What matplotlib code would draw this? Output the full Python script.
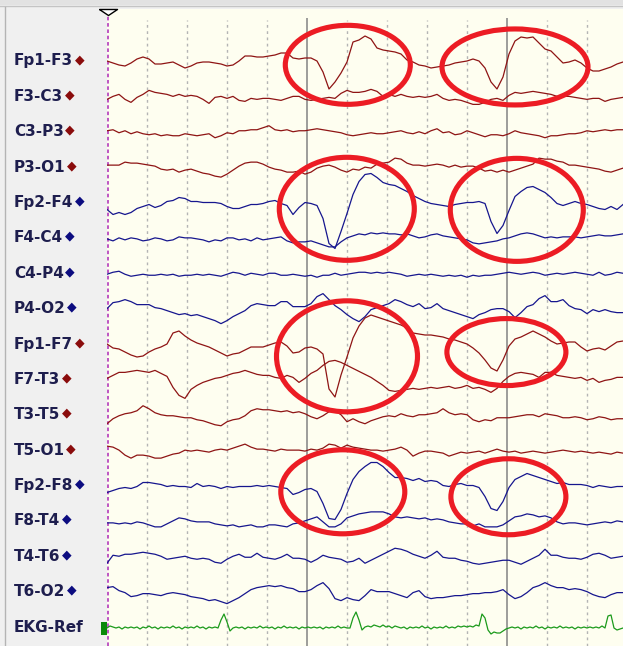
import matplotlib
matplotlib.use("Agg")
import matplotlib.pyplot as plt
import matplotlib.transforms as mtransforms
from matplotlib.patches import Ellipse, Rectangle
import numpy as np

# bipolar montage, top to bottom
channels = ["Fp1-F3", "F3-C3", "C3-P3", "P3-O1",
            "Fp2-F4", "F4-C4", "C4-P4", "P4-O2",
            "Fp1-F7", "F7-T3", "T3-T5", "T5-O1",
            "Fp2-F8", "F8-T4", "T4-T6", "T6-O2",
            "EKG-Ref"]
side = ["L"] * 4 + ["R"] * 4 + ["L"] * 4 + ["R"] * 4 + ["E"]

# EEG samples, one every 30 ms from the cursor (deflection, up = positive)
fp1_f3 = [1, -1, -3, -4, -1, 3, 5, 3, -2, -2,
          -1, 0, -3, -6, -4, -1, 0, 0, -1, -2,
          -4, -3, 1, 6, 6, 5, 5, 6, 7, 9,
          9, 4, 3, 4, 4, 1, -10, -27, -20, -11,
          0, 20, 22, 26, 23, 14, 12, 11, 10, 8,
          2, 0, -3, -4, -6, -5, -4, -3, -1, 0,
          1, 3, 1, -6, -20, -27, -15, 8, 21, 25,
          24, 25, 19, 13, 11, 5, -1, 0, 2, -1,
          -6, -9, -9, -7, -5, -2, 0]
f3_c3 = [-2, 1, 3, -2, -5, 0, 3, 7, 5, 4,
         3, 1, 3, 1, 2, 1, -2, -6, 0, 1,
         -1, 1, -3, -4, -1, -2, -1, -1, -2, -3,
         -1, 1, 1, -2, -3, -2, -1, 0, -1, 4,
         7, 5, 5, 6, 8, 6, 1, 3, 1, 3,
         1, 0, 1, 0, 1, 3, -1, -3, -2, -3,
         -5, -7, -7, -5, -2, -1, -3, 2, 5, 4,
         5, 6, 5, 4, 3, 1, 1, 1, 0, -1,
         -2, -1, -1, -4, -2, -1, 0]
c3_p3 = [2, 3, 0, 2, -1, 1, -1, -2, -1, -3,
         -2, -3, -3, -1, -2, -3, -2, -1, -5, -3,
         0, -1, 2, 2, 3, 3, 5, 7, 3, 2,
         3, 1, 2, 2, 3, 4, 3, 2, 1, 0,
         -2, -3, -2, -1, 0, -1, -1, 0, 1, 2,
         0, -1, 1, -1, 2, 4, 0, 1, -2, -1,
         2, 0, -2, -4, -2, -2, -3, -1, 2, 0,
         -1, -2, -3, -5, -3, -3, -2, -1, -1, 0,
         2, 1, 2, 3, 2, 3, 3]
p3_o1 = [3, 3, 3, 6, 5, 5, 4, 3, 2, -1,
         -2, -1, -4, -2, -1, -3, -5, -6, -8, -9,
         -6, -2, 2, 5, 6, 6, 4, 1, -1, -2,
         -4, -4, -3, -6, -4, 0, 2, 3, 1, -2,
         -4, -1, -2, 1, 0, 4, 5, 6, 10, 9,
         5, 3, 3, 2, 3, 4, 3, 1, 3, 1,
         2, 2, 0, -3, -2, -4, -2, -4, -2, 0,
         2, 4, 10, 9, 9, 7, 6, 3, 3, 2,
         1, 0, -1, -3, -4, -2, 0]
fp2_f4 = [-6, -11, -9, -11, -9, -5, -3, -1, -4, -2,
          2, 3, 6, 5, 2, 2, 1, 1, 1, 0,
          -3, -5, -5, -3, -1, -1, 0, 2, 3, 0,
          -2, -11, -4, 1, 0, -2, -15, -40, -45, -28,
          -10, 9, 22, 29, 30, 26, 21, 19, 18, 15,
          12, 8, 5, 2, 0, -1, -2, -3, -1, 0,
          1, 1, 2, 0, -18, -30, -22, -7, 7, 12,
          16, 17, 14, 11, 6, 0, -2, 0, 2, 0,
          -1, -3, -5, -6, -3, -6, -1]
f4_c4 = [0, -2, 1, -1, 1, 0, -2, -1, 1, 0,
         -2, -1, 2, 1, 1, 0, -1, -3, -1, -2,
         1, 1, -1, 0, -2, 1, -1, 0, 1, 2,
         -2, -4, -3, -3, -2, -4, -6, -8, -8, -3,
         1, 3, 5, 4, 6, 5, 6, 5, 5, 4,
         5, 3, 1, 2, 4, 5, 3, 2, 1, 0,
         -1, -4, -5, -4, -3, -2, 0, 1, 3, 5,
         6, 5, 3, 1, 2, 1, 2, 2, 2, 1,
         2, 3, 4, 3, 3, 4, 5]
c4_p4 = [0, 2, 3, 0, -2, -1, 0, -1, -1, 0,
         -1, 0, -2, -1, -1, 0, -1, 0, -1, -2,
         0, 2, 1, -1, 1, 0, -1, 1, 1, -1,
         -1, 0, -1, -2, -1, -3, -1, -1, 1, -1,
         0, 1, 2, 2, 1, 2, 1, 2, 1, 0,
         -2, -1, 0, -1, 0, -1, -2, -1, -2, -1,
         -3, -1, -2, -1, -1, 0, 1, 2, 1, 0,
         1, 2, 1, -1, 0, 1, 0, 1, 2, 1,
         0, -1, 2, -1, 0, 2, 1]
p4_o2 = [1, 7, 8, 10, 8, 5, 5, 5, 2, 1,
         -1, -3, -5, -4, -6, -5, -7, -9, -11, -14,
         -11, -7, -4, -1, 4, 6, 5, 4, 4, 8,
         8, 3, 3, 3, 6, 13, 16, 10, 4, 0,
         -5, -9, -12, -7, 0, 2, 4, 6, 10, 8,
         5, 3, 6, 1, 2, 6, 1, -1, -3, -5,
         -7, -9, -5, -3, 0, 1, 1, -2, -8, -3,
         3, 5, 11, 14, 8, 8, 10, 4, 1, 0,
         -4, 0, -2, 0, -2, -3, -3]
fp1_f7 = [1, -3, -4, -7, -10, -12, -11, -7, -4, -2,
          1, 12, 14, 9, 5, 2, 0, -2, -5, -8,
          -11, -9, -8, -5, -2, -2, -2, 0, 2, 3,
          -1, -8, -7, -3, -2, -4, -9, -44, -52, -30,
          -12, 7, 19, 27, 30, 28, 26, 24, 22, 20,
          17, 12, 11, 10, 10, 9, 8, 6, 5, 3,
          1, -3, -8, -15, -23, -26, -15, -1, 6, 8,
          11, 14, 11, 8, 4, 1, 2, 3, 3, -2,
          -6, -4, -3, -5, -1, 3, 4]
f7_t3 = [2, 5, 8, 8, 9, 10, 9, 8, 10, 7,
         4, -7, -15, -18, -9, -5, -2, 0, 2, 3,
         5, 7, 8, 10, 8, 6, 5, 5, 3, 2,
         5, 3, -2, 2, 7, 10, 15, 19, 20, 18,
         15, 12, 9, 6, 3, -1, -5, -10, -11, -10,
         -9, -8, -9, -8, -7, -8, -7, -6, -8, -7,
         -5, -8, -7, -9, -12, -8, -1, 4, 7, 8,
         7, 6, 3, 8, 8, 5, 4, 3, 2, 3,
         0, 2, -2, 0, 1, 3, 3]
t3_t5 = [-8, -3, 0, 2, 3, 5, 10, 7, 3, 1,
         0, 0, -1, -2, -2, -4, -5, -7, -9, -10,
         -6, -4, -3, 0, 5, 7, 6, 6, 5, 4,
         5, 3, 4, 2, -1, -3, 0, 4, 5, 1,
         -6, -3, -6, -8, -5, -3, -1, 0, -1, 2,
         0, -1, 1, 1, 2, 3, 7, 3, 1, 2,
         1, -4, -6, -4, -5, -2, -2, -2, -1, 0,
         1, 1, -1, 2, 1, 0, -2, -2, -1, -2,
         -4, -3, -1, -2, -4, -3, -3]
t5_o1 = [5, 4, 1, -4, -7, -4, -4, -5, -7, -7,
         -5, -3, -2, 1, 0, 1, 0, -1, 1, 2,
         1, 3, 5, 7, 4, 2, 2, 1, 0, 2,
         1, 1, 1, 0, 2, 1, 3, 7, 6, 3,
         6, 4, 3, 2, 1, 1, 0, 1, 2, 4,
         1, -5, -2, 0, 0, -1, -2, -5, -3, -1,
         -2, -1, 0, -2, 0, 2, 0, -1, 0, -2,
         -1, 0, -1, -2, -1, 0, 1, 0, -1, 0,
         -1, -2, -1, -2, -3, -1, -2]
fp2_f8 = [-6, -4, -2, -1, -2, 0, 4, 4, 3, 2,
          0, 1, 0, 0, -1, 3, 0, 1, 0, -2,
          0, -1, 0, 0, 0, 1, 0, 1, 0, -1,
          -2, -8, -6, -3, -2, -5, -17, -32, -33, -23,
          -7, 7, 15, 20, 24, 24, 20, 14, 9, 9,
          8, 6, 8, 5, 6, 5, 1, 0, 2, 3,
          1, 1, -1, -10, -22, -24, -15, -1, 7, 10,
          13, 11, 9, 7, 5, 3, 4, 2, 2, 2,
          1, -1, 1, 0, -1, 0, 0]
f8_t4 = [-1, -1, -2, -1, -2, 0, -1, -3, -5, -5,
         -2, 1, 4, 3, 1, 0, 0, 0, -2, -3,
         -4, -3, -5, -4, -3, -5, -5, -3, -3, -4,
         -5, -2, -1, 1, 3, 5, 0, -5, -5, -2,
         4, 6, 8, 9, 10, 10, 10, 8, 5, 4,
         5, 4, 3, 4, 2, 3, 2, 0, -1, -2,
         -2, -4, -2, -5, -5, -5, -3, 1, 5, 6,
         8, 7, 5, 6, 4, 0, -2, -1, -1, -2,
         -3, -2, -1, 0, -1, 1, 0]
t4_t6 = [-6, 2, 1, 3, 3, 4, 5, 4, 3, 1,
         -2, -1, 0, 1, -1, -2, -1, -2, -5, -6,
         -2, 1, 3, 0, 0, 4, 0, -1, -2, 0,
         3, -1, -1, -2, -5, -2, 2, 0, -1, -2,
         -5, -4, -1, -6, -3, 0, 3, 6, 9, 8,
         6, 3, 1, -1, 2, 6, 0, -1, -1, -3,
         -4, -6, -7, -6, -5, -4, -3, -3, -5, -7,
         -4, -1, 2, 8, 2, 2, 0, -1, -1, -2,
         0, 3, 4, 2, -1, 0, 1]
t6_o2 = [5, 6, 2, 0, -4, -3, -1, -1, -2, -3,
         -1, 0, -1, -2, -4, -5, -6, -8, -7, -9,
         -11, -8, -5, -1, 3, 5, 6, 7, 6, 7,
         5, 4, 1, 1, 3, 7, 10, 4, -6, -8,
         -5, -7, -8, -3, 3, 1, 1, 1, -1, -3,
         -5, 0, 2, -4, -6, -5, -5, -4, -3, -3,
         -2, -1, -1, 0, 0, 1, 3, -2, -6, -4,
         0, 5, 7, 10, 7, 5, 5, 3, 4, 3,
         1, -2, -4, -5, -2, 0, 0]

# EKG sampled every 15 ms
ekg_ref = [0, 2, 1, 0, 1, -1, 1, 0, 1, 0,
           1, -1, 1, 0, 2, 0, 1, -1, 1, 0,
           1, 0, 2, 0, 1, -1, 1, 0, 1, 0,
           2, 0, 1, -1, 1, 0, 1, 0, 8, 14,
           6, -3, 0, 1, 0, 1, -1, 1, 0, 1,
           0, 2, 0, 1, 0, 1, -1, 1, 0, 2,
           0, 1, 0, 1, -1, 1, 0, 1, 0, 1,
           0, 1, -1, 1, 0, 1, 0, 2, 0, 1,
           0, 0, 10, 16, 8, -2, 1, 2, 1, 3,
           2, 1, 3, 1, 2, 0, 2, 1, 0, 1,
           -1, 1, 0, 1, 0, 2, 0, 1, -1, 1,
           0, 1, 0, 2, 0, 1, 0, 2, 1, 2,
           1, 2, 1, 3, 2, 14, 10, -2, -6, -4,
           -5, -5, -3, -1, 0, 1, 0, 1, -1, 1,
           0, 1, 0, 2, 0, 1, -1, 1, 0, 1,
           0, 2, 0, 1, 0, 1, -1, 1, 0, 1,
           0, 1, 0, 1, 0, 2, 0, 12, 13, 0,
           -2, -1, 0]

# marked blink artefacts: centre time (s), centre position (channel units),
# duration (s), vertical span (signal units)
ring_t = [1.204, 2.04, 1.199, 2.049, 1.2, 1.997, 1.179, 2.007]
ring_ch = [0.08, 0.14, 4.15, 4.18, 8.32, 8.2, 12.15, 12.29]
ring_dur = [0.625, 0.73, 0.675, 0.665, 0.705, 0.595, 0.62, 0.575]
ring_span = [79, 76, 103, 103, 111, 67, 84, 76]

traces = [fp1_f3, f3_c3, c3_p3, p3_o1, fp2_f4, f4_c4, c4_p4, p4_o2,
          fp1_f7, f7_t3, t3_t5, t5_o1, fp2_f8, f8_t4, t4_t6, t6_o2]
t = np.arange(len(fp1_f3)) * 0.03
t_ekg = np.arange(len(ekg_ref)) * 0.015

gap = 35.375
trace_col = {"L": "#8e1414", "R": "#16168e", "E": "#1b9a1b"}
dot_col = {"L": "#8a0c0c", "R": "#0c0c80", "E": "#0a8a0a"}

fig = plt.figure(figsize=(6.23, 6.46), dpi=100)
fig.patch.set_facecolor("#f0f0f0")
ax = fig.add_axes([107 / 623, 0, 516 / 623, 637 / 646])
ax.set_facecolor("#fefef0")
ax.set_xlim(0, 2.58)
ax.set_ylim(-584, 53)
ax.set_xticks([])
ax.set_yticks([])
for s in ax.spines.values():
    s.set_visible(False)

# window chrome
fig.add_artist(Rectangle((0, 1 - 5 / 646), 1, 5 / 646, transform=fig.transFigure,
                         facecolor="#e2e2e2", edgecolor="none"))
fig.add_artist(plt.Line2D([0, 1], [1 - 5.5 / 646] * 2, transform=fig.transFigure,
                          color="#c4c4c4", lw=1))
fig.add_artist(plt.Line2D([5 / 623, 5 / 623], [0, 1 - 7 / 646], transform=fig.transFigure,
                          color="#b4b4b4", lw=1))

# time grid
minor = [x for x in np.arange(0.2, 2.58, 0.2) if abs(x - round(x)) > 0.05]
ax.vlines(minor, -584, 42, colors="#b4b4b4", linestyles=(0, (2, 2.5)), lw=1)
ax.vlines([1.0, 2.0], -584, 44, colors="#8c8c8c", lw=1.2)

# cursor
ax.vlines([0.003], -584, 47, colors="#b848c0", linestyles=(0, (2, 1.5)), lw=1.3)
tri = [(-1.5, 0.5), (1.5, 0.5), (0, -0.5), (-1.5, 0.5)]
ax.plot([0.003], [50], marker=tri, ms=13, mfc="white", mec="black", mew=1,
        clip_on=False, zorder=10)

# traces
for i, vals in enumerate(traces):
    ax.plot(t, -i * gap + np.array(vals), color=trace_col[side[i]], lw=0.9)
ax.plot(t_ekg, -16 * gap + np.array(ekg_ref), color=trace_col["E"], lw=0.9)

# highlight rings
for tc, ch, d, sp in zip(ring_t, ring_ch, ring_dur, ring_span):
    ax.add_patch(Ellipse((tc, -ch * gap), d, sp, fill=False,
                         edgecolor="#ec1c24", lw=3.7, zorder=5))

# channel labels
lab_tr = mtransforms.blended_transform_factory(fig.transFigure, ax.transData)
for i, name in enumerate(channels):
    lab = fig.text(14 / 623, -i * gap - 3.5, name, transform=lab_tr,
                   ha="left", va="baseline", fontsize=11, fontweight="bold",
                   color="#1e1e4e")
    if side[i] == "E":
        fig.add_artist(Rectangle((101 / 623, -i * gap - 7), 6 / 623, 13,
                                 transform=lab_tr, facecolor=dot_col["E"],
                                 edgecolor="none"))
    else:
        ax.annotate("\u25c6", xy=(1, 0.6), xycoords=lab, xytext=(1, 0),
                    textcoords="offset points", ha="left", va="center",
                    fontsize=9, color=dot_col[side[i]], annotation_clip=False)

fig.savefig("out.png", dpi=100, facecolor=fig.get_facecolor())
